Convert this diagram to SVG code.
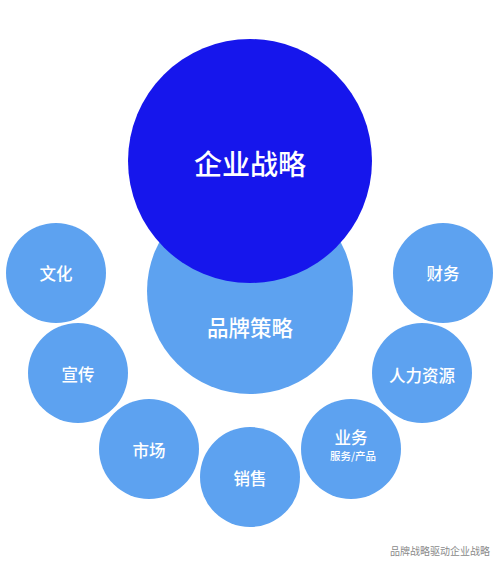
<svg xmlns="http://www.w3.org/2000/svg" width="500" height="568" viewBox="0 0 500 568">
<style>
.sm{fill:#5DA2F0}
.t{fill:#fff;font-family:"Noto Sans CJK SC","Noto Sans",sans-serif;font-weight:500;text-anchor:middle;dominant-baseline:central}
.s{font-size:16.5px}
.cap{fill:#8a8a8a;font-family:"Noto Sans CJK SC",sans-serif;font-size:10px;text-anchor:end;dominant-baseline:central}
</style>
<rect width="500" height="568" fill="#fff"/>
<g id="connectors"></g>
<g id="brand"><circle cx="250" cy="291" r="103" class="sm"/><text x="250" y="326" class="t" font-size="21.5">品牌策略</text></g>
<g id="corp"><circle cx="250" cy="161" r="122" fill="#1616EC"/><text x="250" y="163" class="t" font-size="28">企业战略</text></g>
<g id="culture"><circle cx="56" cy="273" r="50" class="sm"/><text x="56" y="273" class="t s">文化</text></g>
<g id="promo"><circle cx="78" cy="373" r="50" class="sm"/><text x="78" y="374" class="t s">宣传</text></g>
<g id="market"><circle cx="149" cy="449" r="50" class="sm"/><text x="149" y="450" class="t s">市场</text></g>
<g id="sales"><circle cx="250" cy="477" r="50" class="sm"/><text x="250" y="478" class="t s">销售</text></g>
<g id="business"><circle cx="351" cy="449" r="50" class="sm"/><text x="351" y="437" class="t s">业务</text><text x="353" y="455.5" class="t" font-size="10.5">服务/产品</text></g>
<g id="hr"><circle cx="422" cy="373" r="50" class="sm"/><text x="422" y="375" class="t s">人力资源</text></g>
<g id="finance"><circle cx="443" cy="273" r="50" class="sm"/><text x="443" y="273" class="t s">财务</text></g>
<text x="490" y="550" class="cap">品牌战略驱动企业战略</text>
</svg>
